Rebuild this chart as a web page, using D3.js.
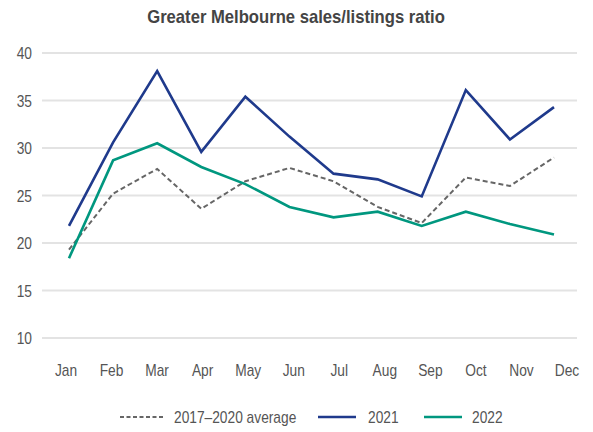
<!DOCTYPE html>
<html>
<head>
<meta charset="utf-8">
<script src="https://cdn.jsdelivr.net/npm/d3@7"></script>
<style>
  body { margin: 0; background: #fff; }
  svg text { font-family: "Liberation Sans Narrow", "Arial Narrow", "Liberation Sans", sans-serif; }
</style>
</head>
<body>
<div id="chart"></div>
<script>
// Data
const months = ["Jan", "Feb", "Mar", "Apr", "May", "Jun", "Jul", "Aug", "Sep", "Oct", "Nov", "Dec"];
const avg2017_2020 = [19.3, 25.2, 27.8, 23.6, 26.5, 27.9, 26.5, 23.8, 22.1, 26.9, 26.0, 29.0];
const y2021 = [21.8, 30.6, 38.1, 29.6, 35.4, 31.2, 27.3, 26.7, 24.9, 36.1, 30.9, 34.3];
const y2022 = [18.4, 28.7, 30.5, 28.0, 26.2, 23.8, 22.7, 23.3, 21.8, 23.3, 22.0, 20.9];
const yTicks = [10, 15, 20, 25, 30, 35, 40];

const series = [
    { name: "2017\u20132020 average", values: avg2017_2020, color: "#666666", dash: "5,3", width: 2 },
    { name: "2021", values: y2021, color: "#1f3a8c", dash: null, width: 2.6 },
    { name: "2022", values: y2022, color: "#00977f", dash: null, width: 2.6 }
];

const W = 593, H = 432;
const narrow = 0.86; // squeeze text horizontally to mimic a condensed face

const svg = d3.select("#chart")
    .append("svg")
    .attr("width", W)
    .attr("height", H);

// Scales
const x = d3.scalePoint().domain(months).range([69, 554]);
const xLabel = d3.scalePoint().domain(months).range([66, 567]);
const y = d3.scaleLinear().domain([10, 40]).range([338, 53]);

function place(sel, fx, fy) {
    sel.attr("transform", (d, i) => "translate(" + fx(d, i) + "," + fy(d, i) + ") scale(" + narrow + ",1)");
}

// Title
svg.append("text")
    .attr("transform", "translate(296,23) scale(0.9,1)")
    .attr("text-anchor", "middle")
    .style("font-weight", "bold")
    .style("font-size", "18.5px")
    .style("fill", "#444")
    .text("Greater Melbourne sales/listings ratio");

// Grid lines
svg.append("g")
    .selectAll("line")
    .data(yTicks)
    .enter()
    .append("line")
    .attr("x1", 42)
    .attr("x2", 577)
    .attr("y1", d => y(d))
    .attr("y2", d => y(d))
    .attr("stroke", "#e3e3e3")
    .attr("stroke-width", 2);

// Y axis labels
svg.append("g")
    .selectAll("text")
    .data(yTicks)
    .enter()
    .append("text")
    .call(place, () => 32, d => y(d) + 6)
    .attr("text-anchor", "end")
    .style("font-size", "16px")
    .style("fill", "#555")
    .text(d => d);

// X axis labels
svg.append("g")
    .selectAll("text")
    .data(months)
    .enter()
    .append("text")
    .call(place, d => xLabel(d), () => 376)
    .attr("text-anchor", "middle")
    .style("font-size", "16px")
    .style("fill", "#555")
    .text(d => d);

// Lines
const line = d3.line()
    .x((d, i) => x(months[i]))
    .y(d => y(d));

svg.append("g")
    .selectAll("path")
    .data(series)
    .enter()
    .append("path")
    .attr("d", d => line(d.values))
    .attr("fill", "none")
    .attr("stroke", d => d.color)
    .attr("stroke-width", d => d.width)
    .attr("stroke-dasharray", d => d.dash)
    .attr("stroke-linejoin", "miter");

// Legend
const legendPos = [
    { lx: 120, tx: 174 },
    { lx: 318, tx: 368 },
    { lx: 424, tx: 472 }
];
const legend = svg.append("g")
    .selectAll("g")
    .data(series)
    .enter()
    .append("g");

legend.append("line")
    .attr("x1", (d, i) => legendPos[i].lx)
    .attr("x2", (d, i) => legendPos[i].lx + (i === 0 ? 43 : 38))
    .attr("y1", 417)
    .attr("y2", 417)
    .attr("stroke", d => d.color)
    .attr("stroke-width", d => d.width)
    .attr("stroke-dasharray", d => d.dash ? "4,2.5" : null);

legend.append("text")
    .call(place, (d, i) => legendPos[i].tx, () => 423)
    .style("font-size", "16px")
    .style("fill", "#555")
    .text(d => d.name);
</script>
</body>
</html>
